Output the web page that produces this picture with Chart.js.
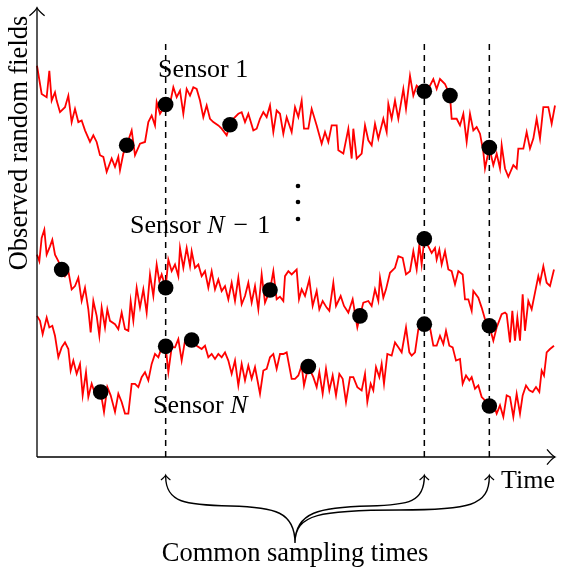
<!DOCTYPE html>
<html>
<head>
<meta charset="utf-8">
<script src="https://cdn.jsdelivr.net/npm/chart.js@4/dist/chart.umd.min.js"></script>
<style>
  html, body { margin: 0; padding: 0; background: #fff; }
  canvas { display: block; }
</style>
</head>
<body>
<canvas id="fieldsChart" width="566" height="571"></canvas>
<script>
// time axis runs 0..1554, field axis 0..1356 (arbitrary units)
const sensor1Time = [0,14,29,37,44,54,59,69,84,94,104,114,124,134,144,159,169,179,189,199,209,224,234,244,249,259,269,284,294,309,324,334,344,354,359,369,386,399,409,419,429,439,449,459,469,479,489,499,509,519,529,544,554,569,579,589,604,614,624,634,649,659,669,679,689,699,709,719,729,739,749,764,774,784,794,801,814,824,839,854,864,874,884,899,904,919,934,944,949,959,974,984,994,1004,1014,1024,1039,1049,1054,1064,1074,1084,1099,1107,1119,1129,1139,1149,1162,1174,1189,1199,1209,1224,1239,1244,1259,1269,1279,1289,1299,1309,1319,1329,1339,1344,1357,1369,1379,1389,1394,1404,1414,1429,1439,1444,1459,1469,1479,1489,1499,1509,1519,1534,1544,1554]
const sensor1Field = [1181,1096,1086,1166,1076,1101,1076,1041,1056,1091,1011,1051,1011,1016,986,951,971,951,911,906,861,901,876,906,866,916,941,986,911,946,951,1011,1031,1001,1071,1036,1064,1066,1116,1086,1106,1036,1111,1091,1116,1111,1076,1026,1061,1021,1011,1001,991,971,1003,1021,1036,1041,1011,1036,986,991,1021,1041,1026,1061,981,1046,1036,976,1026,981,1056,1026,1076,991,991,1051,1001,946,981,951,1001,1001,926,916,991,901,991,901,916,1001,956,941,1006,961,1021,981,1066,1021,1076,1021,1111,1051,1151,1091,1121,1111,1104,1111,1141,1111,1141,1126,1091,1021,1021,1001,1036,951,1036,986,996,976,921,871,934,881,916,871,941,871,846,881,871,931,931,981,931,961,1021,961,1056,1056,1006,1061]

const sensorN1Time = [0,7,14,22,29,39,46,54,64,74,84,94,104,114,124,134,144,154,161,169,179,187,194,204,211,219,234,244,254,264,274,281,289,299,309,319,329,339,349,359,367,374,386,394,404,414,424,429,439,449,459,464,474,484,494,504,514,524,534,544,554,564,574,584,594,604,614,624,634,644,654,664,674,684,699,709,719,729,739,744,754,764,779,786,794,804,817,827,839,847,857,869,877,889,897,911,921,934,947,961,969,979,994,1004,1014,1024,1029,1039,1047,1059,1074,1084,1097,1107,1119,1129,1139,1147,1154,1162,1174,1184,1194,1199,1207,1214,1224,1234,1244,1254,1264,1277,1284,1294,1304,1309,1324,1334,1344,1357,1369,1379,1394,1404,1409,1419,1426,1434,1441,1449,1457,1464,1474,1484,1494,1504,1509,1519,1529,1539,1551]
const sensorN1Field = [611,591,661,686,611,636,656,611,591,566,546,561,506,516,541,471,511,446,376,471,426,366,451,391,446,411,401,386,436,386,381,471,411,511,451,506,436,551,486,581,531,551,511,596,561,581,546,631,571,631,576,621,571,581,546,561,511,561,506,536,501,516,476,526,471,541,461,486,526,466,516,446,551,466,504,561,476,484,471,546,561,551,566,476,506,486,536,456,501,446,471,451,441,526,456,486,456,436,476,391,426,466,471,456,506,471,541,481,506,556,571,606,601,551,561,621,566,641,581,659,636,616,631,596,626,581,621,566,561,521,561,551,476,476,441,501,481,451,416,396,351,391,431,436,431,346,441,351,421,351,491,381,471,446,496,546,526,576,526,516,566]

const sensorNTime = [0,9,17,29,37,46,54,64,74,84,94,101,109,119,129,137,147,154,164,174,191,201,211,221,234,244,254,264,274,284,294,304,314,324,334,344,354,364,374,386,394,404,414,424,434,444,464,479,494,504,514,524,534,544,554,564,574,584,594,604,614,624,634,644,654,669,679,689,699,709,719,729,739,749,764,774,784,794,801,814,829,839,847,857,867,877,887,897,907,917,927,939,949,961,974,984,991,1001,1009,1017,1027,1034,1041,1051,1064,1074,1084,1094,1107,1117,1124,1134,1144,1162,1179,1189,1199,1209,1219,1227,1237,1247,1257,1269,1277,1287,1297,1304,1314,1324,1334,1344,1357,1369,1379,1389,1399,1409,1419,1429,1439,1449,1457,1467,1477,1487,1497,1507,1514,1521,1529,1539,1551]
const sensorNField = [426,411,371,421,391,396,366,301,331,346,326,261,291,251,281,186,256,181,221,191,196,136,211,186,136,191,166,131,131,221,221,211,241,256,231,281,311,301,331,334,256,331,331,356,291,351,353,336,326,336,301,311,296,311,301,316,291,251,291,216,281,231,276,236,271,191,261,266,301,311,266,311,311,316,236,236,246,276,216,273,241,211,256,191,266,201,246,186,251,236,166,241,241,211,201,251,166,221,201,271,241,281,221,311,306,346,331,316,391,316,306,316,386,401,391,336,336,366,341,381,336,331,291,296,221,246,231,241,206,216,181,171,154,161,131,156,121,186,181,121,191,131,186,216,201,196,211,196,261,246,316,326,336]

// sampled observations
const sensor1SampleTime = [269,386,579,1162,1239,1357]
const sensor1SampleField = [941,1064,1003,1104,1091,934]
const sensorN1SampleTime = [74,386,699,969,1162,1357]
const sensorN1SampleField = [566,511,504,426,659,396]
const sensorNSampleTime = [191,386,464,814,1162,1357]
const sensorNSampleField = [196,334,353,273,401,154]

const commonTimes = [386,1162,1357]
const dashTop = 1260

const toPoints = (ts, vs) => ts.map((t, i) => ({x: t, y: vs[i]}))

const fieldLine = (ts, vs) => ({
    type: 'line',
    data: toPoints(ts, vs),
    borderColor: '#ff0000',
    borderWidth: 1.8,
    pointRadius: 0,
    tension: 0,
    clip: false,
    order: 1
})

const samples = (ts, vs) => ({
    type: 'scatter',
    data: toPoints(ts, vs),
    backgroundColor: '#000',
    borderWidth: 0,
    pointRadius: 7.8,
    clip: false,
    order: 0
})

const dashLines = commonTimes.map(t => ({
    type: 'line',
    data: [{x: t, y: 0}, {x: t, y: dashTop}],
    borderColor: '#000',
    borderWidth: 1.5,
    borderDash: [6, 5],
    pointRadius: 0,
    clip: false,
    order: 2
}))

const SERIF = '"Liberation Serif", "Times New Roman", serif'

// open "to" style arrow tip
const arrowTip = (ctx, x, y, dx, dy, s) => {
    const px = -dy, py = dx
    ctx.beginPath()
    ctx.moveTo(x - dx * s + px * s * 0.95, y - dy * s + py * s * 0.95)
    ctx.quadraticCurveTo(x - dx * s * 0.35 + px * s * 0.15, y - dy * s * 0.35 + py * s * 0.15, x, y)
    ctx.quadraticCurveTo(x - dx * s * 0.35 - px * s * 0.15, y - dy * s * 0.35 - py * s * 0.15, x - dx * s - px * s * 0.95, y - dy * s - py * s * 0.95)
    ctx.stroke()
}

const drawRuns = (ctx, x, y, runs) => {
    runs.forEach(([txt, italic, gap]) => {
        ctx.font = (italic ? 'italic ' : '') + '26px ' + SERIF
        ctx.fillText(txt, x, y)
        x += ctx.measureText(txt).width + (gap || 0)
    })
}

const overlay = {
    id: 'overlay',
    afterDatasetsDraw(chart) {
        const {ctx, chartArea: a, scales} = chart
        const xs = scales.x
        ctx.save()
        ctx.strokeStyle = '#000'
        ctx.fillStyle = '#000'
        ctx.lineWidth = 1.3

        // axes
        ctx.beginPath()
        ctx.moveTo(a.left, a.bottom)
        ctx.lineTo(a.left, a.top)
        ctx.moveTo(a.left, a.bottom)
        ctx.lineTo(a.right, a.bottom)
        ctx.stroke()
        arrowTip(ctx, a.left, a.top, 0, -1, 8)
        arrowTip(ctx, a.right, a.bottom, 1, 0, 8)

        // braces from the common sampling times
        const [c1, c2, c3] = commonTimes.map(t => xs.getPixelForValue(t))
        const tipX = 295, tipY = 543, top = a.bottom + 19
        ctx.lineWidth = 1.4
        ctx.beginPath()
        ctx.moveTo(c1, top)
        ctx.bezierCurveTo(c1, 503, c1 + 20, 505, c1 + 65, 506)
        ctx.bezierCurveTo(tipX - 20, 507, tipX, 512, tipX, tipY)
        ctx.moveTo(c2, top)
        ctx.bezierCurveTo(c2, 502, c2 - 15, 505, c2 - 55, 506)
        ctx.bezierCurveTo(tipX + 25, 507, tipX, 512, tipX, tipY)
        ctx.moveTo(c3, top)
        ctx.bezierCurveTo(c3, 506, c3 - 20, 510, c3 - 90, 510)
        ctx.bezierCurveTo(tipX + 25, 510, tipX, 514, tipX, tipY)
        ctx.stroke()
        ctx.lineWidth = 1.1
        ;[c1, c2, c3].forEach(c => arrowTip(ctx, c, top - 1, 0, -1, 5))

        // labels
        ctx.textBaseline = 'alphabetic'
        ctx.textAlign = 'left'
        drawRuns(ctx, 158, 77, [['Sensor 1', false]])
        drawRuns(ctx, 130, 233, [['Sensor ', false], ['N', true, 9], ['\u2212', false, 9], ['1', false]])
        drawRuns(ctx, 153, 413, [['Sensor ', false], ['N', true]])
        drawRuns(ctx, 501, 488, [['Time', false]])

        ctx.font = '26.5px ' + SERIF
        ctx.textAlign = 'center'
        ctx.fillText('Common sampling times', tipX, 561)

        ctx.save()
        ctx.translate(27, 143)
        ctx.rotate(-Math.PI / 2)
        ctx.fillText('Observed random fields', 0, 0)
        ctx.restore()

        // vertical dots between sensors
        ;[186, 202, 219].forEach(yy => {
            ctx.beginPath()
            ctx.arc(298, yy, 2.3, 0, Math.PI * 2)
            ctx.fill()
        })
        ctx.restore()
    }
}

new Chart('fieldsChart', {
    data: {
        datasets: [
            samples(sensor1SampleTime, sensor1SampleField),
            samples(sensorN1SampleTime, sensorN1SampleField),
            samples(sensorNSampleTime, sensorNSampleField),
            fieldLine(sensor1Time, sensor1Field),
            fieldLine(sensorN1Time, sensorN1Field),
            fieldLine(sensorNTime, sensorNField),
            ...dashLines
        ]
    },
    options: {
        responsive: false,
        animation: false,
        devicePixelRatio: 1,
        layout: {padding: {left: 37, right: 11, top: 5, bottom: 114}},
        scales: {
            x: {type: 'linear', min: 0, max: 1554, display: false},
            y: {type: 'linear', min: 0, max: 1356, display: false}
        },
        plugins: {legend: {display: false}, tooltip: {enabled: false}}
    },
    plugins: [overlay]
})
</script>
</body>
</html>
